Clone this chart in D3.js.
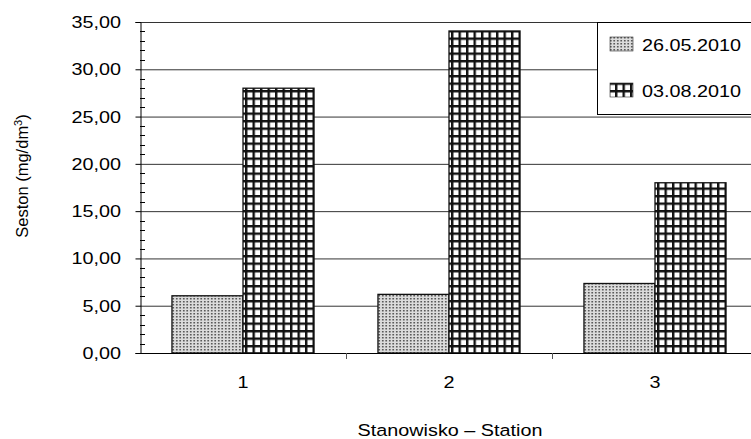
<!DOCTYPE html>
<html><head><meta charset="utf-8">
<script src="https://cdn.jsdelivr.net/npm/d3@7"></script>
<style>
html,body{margin:0;padding:0;background:#fff;}
svg{display:block;font-family:"Liberation Sans",Arial,sans-serif;}
</style></head>
<body><svg id="c" width="751" height="439"></svg>
<script>
const categories = ["1","2","3"];
const seriesNames = ["26.05.2010","03.08.2010"];
const valuesMay = [6.05, 6.2, 7.35];
const valuesAug = [28.0, 34.05, 18.0];
const yTicks = [0,5,10,15,20,25,30,35];

const FS = 16.5, SX = 1.2;
const svg = d3.select("#c");
const m = {left:140, top:22, right:758, bottom:353};
const defs = svg.append("defs");
// dotted pattern
const pd = defs.append("pattern").attr("id","dots").attr("patternUnits","userSpaceOnUse")
  .attr("width",3.5).attr("height",3);
pd.append("rect").attr("width",3.5).attr("height",3).attr("fill","#dcdcdc");
pd.append("rect").attr("x",1).attr("y",1).attr("width",1.5).attr("height",1.5).attr("fill","#444");
// grid pattern
const pg = defs.append("pattern").attr("id","grid").attr("patternUnits","userSpaceOnUse")
  .attr("width",7.5).attr("height",7.5);
pg.append("rect").attr("width",7.5).attr("height",7.5).attr("fill","#fff");
pg.append("rect").attr("x",0).attr("y",0).attr("width",2.4).attr("height",7.5).attr("fill","#111");
pg.append("rect").attr("x",0).attr("y",0).attr("width",7.5).attr("height",2.4).attr("fill","#111");

const y = d3.scaleLinear().domain([0,35]).range([m.bottom,m.top]);
const x0 = d3.scaleBand().domain(categories).range([m.left,m.right]).paddingInner(0).paddingOuter(0);
const x1 = d3.scaleBand().domain(seriesNames).range([0,x0.bandwidth()]).paddingOuter(0.45).paddingInner(0);

function stext(sel, x, yy, txt, anchor){
  return sel.append("text").attr("transform",`translate(${x},${yy}) scale(${SX},1)`)
    .attr("text-anchor",anchor||"start").attr("font-size",FS).attr("fill","#000").text(txt);
}

// gridlines
svg.append("g").selectAll("line").data(yTicks.filter(d=>d>0)).join("line")
  .attr("x1",m.left).attr("x2",751).attr("y1",d=>y(d)+0.5).attr("y2",d=>y(d)+0.5)
  .attr("stroke","#333").attr("stroke-width",1);

// bars
const fills = ["url(#dots)","url(#grid)"];
const data = categories.map((c,i)=>({c, vals:[valuesMay[i], valuesAug[i]]}));
const g = svg.append("g").selectAll("g").data(data).join("g")
  .attr("transform",d=>`translate(${x0(d.c)},0)`);
g.selectAll("rect").data(d=>d.vals.map((v,j)=>({v,j}))).join("rect")
  .attr("x",d=>x1(seriesNames[d.j])).attr("width",x1.bandwidth())
  .attr("y",d=>y(d.v)).attr("height",d=>y(0)-y(d.v))
  .attr("fill",d=>fills[d.j]).attr("stroke","#111").attr("stroke-width",1.3);

// y axis
const yAxis = d3.axisLeft(y).tickValues(yTicks).tickSize(5).tickFormat("");
const ya = svg.append("g").attr("transform",`translate(${m.left+0.5},0)`).call(yAxis);
ya.select(".domain").attr("stroke","#000");
ya.selectAll(".tick line").attr("stroke","#000");
const fmt = d=>d3.format(".2f")(d).replace(".",",");
yTicks.forEach(t=>stext(svg, 121, y(t)+6, fmt(t), "end"));
// minor ticks
const minor = d3.range(0,35.01,1).filter(d=>d%5!==0);
svg.append("g").selectAll("line").data(minor).join("line")
  .attr("x1",m.left).attr("x2",m.left+5).attr("y1",d=>Math.round(y(d))+0.5).attr("y2",d=>Math.round(y(d))+0.5)
  .attr("stroke","#000");

// x axis
svg.append("line").attr("x1",m.left).attr("x2",751).attr("y1",m.bottom+0.5).attr("y2",m.bottom+0.5).attr("stroke","#000");
const sep = categories.slice(1).map(c=>x0(c));
svg.append("g").selectAll("line").data(sep).join("line")
  .attr("x1",d=>d+0.5).attr("x2",d=>d+0.5).attr("y1",m.bottom).attr("y2",m.bottom+6).attr("stroke","#555");
categories.forEach(c=>stext(svg, x0(c)+x0.bandwidth()/2, 388, c, "middle"));

// axis titles
stext(svg, 450, 436, "Stanowisko – Station", "middle");
const yt = svg.append("text").attr("transform","translate(28,176) scale(1,1.0) rotate(-90)")
  .attr("text-anchor","middle").attr("font-size",FS);
yt.append("tspan").text("Seston (mg/dm");
yt.append("tspan").attr("dy",-6).attr("font-size",11).text("3");
yt.append("tspan").attr("dy",6).text(")");

// legend
const lg = svg.append("g");
lg.append("rect").attr("x",597.5).attr("y",22.5).attr("width",160).attr("height",92).attr("fill","#fff").attr("stroke","#000");
seriesNames.forEach((s,i)=>{
  lg.append("rect").attr("x",610).attr("y",37+i*46).attr("width",23).attr("height",14)
    .attr("fill",fills[i]).attr("stroke","#333").attr("stroke-width",0.6);
  stext(lg, 642, 51+i*46, s, "start");
});
</script></body></html>
